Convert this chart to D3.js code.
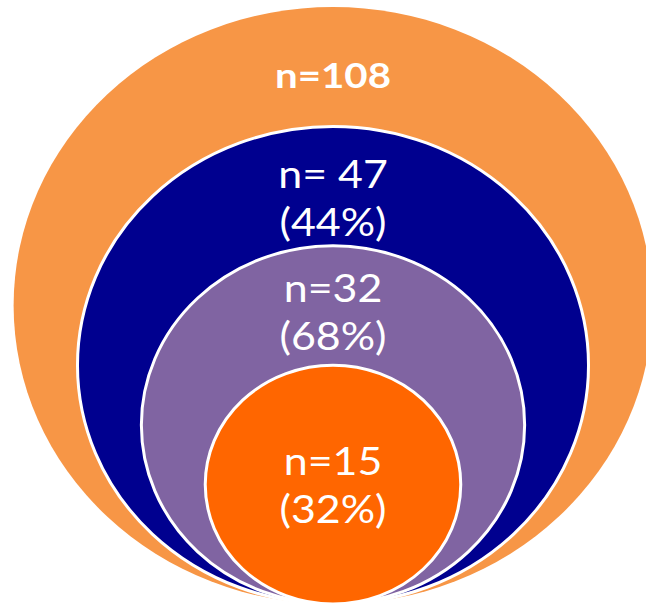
<!DOCTYPE html>
<html>
<head>
<meta charset="utf-8">
<script src="https://cdn.jsdelivr.net/npm/d3@7"></script>
<style>
  html, body { margin: 0; padding: 0; background: #fff; }
  svg { display: block; }
</style>
</head>
<body>
<svg id="chart" width="646" height="606"></svg>
<script>
// ---- data ----
const groups = ["all", "subset1", "subset2", "subset3"];
const counts = [108, 47, 32, 15];
const countLabels = ["n=108", "n= 47", "n=32", "n=15"];
const shareLabels = ["", "(44%)", "(68%)", "(32%)"];
const sizeLevels = [5, 4, 3, 2];   // relative nesting size of each circle

// ---- layout ----
const W = 646, H = 606;
const cx = 333, bottomY = 604;
const stretch = 1.07;            // horizontal stretch of the original picture
const colors = ["#F79646", "#00008F", "#8064A2", "#FF6600"];

const rScale = d3.scaleLinear().domain([0, 5]).range([0, 298.5]);

const svg = d3.select("#chart");

const data = groups.map((g, i) => ({
  group: g,
  n: counts[i],
  line1: countLabels[i],
  line2: shareLabels[i],
  ry: rScale(sizeLevels[i]),
  color: colors[i],
  i
}));

svg.selectAll("ellipse")
  .data(data)
  .join("ellipse")
  .attr("cx", cx)
  .attr("cy", d => bottomY - d.ry)
  .attr("rx", d => d.ry * stretch)
  .attr("ry", d => d.ry)
  .attr("fill", d => d.color)
  .attr("stroke", d => d.i === 0 ? "none" : "#fff")
  .attr("stroke-width", 3);

// label baselines (first line) relative to the top of each ellipse
const firstOffsets = [81, 62, 56, 110];
const lineGap = 48;

const lab = svg.selectAll("g.label")
  .data(data)
  .join("g")
  .attr("class", "label");

lab.append("text")
  .attr("transform", d => `translate(${cx},${bottomY - 2 * d.ry + firstOffsets[d.i]}) scale(${d.i === 0 ? 1.15 : 1.1},1)`)
  .attr("text-anchor", "middle")
  .attr("fill", "#fff")
  .attr("font-family", "Lato, 'Open Sans', sans-serif")
  .attr("font-weight", d => d.i === 0 ? 700 : 400)
  .attr("font-size", d => d.i === 0 ? 35 : 39)
  .text(d => d.line1);

lab.filter(d => d.line2)
  .append("text")
  .attr("transform", d => `translate(${cx},${bottomY - 2 * d.ry + firstOffsets[d.i] + lineGap}) scale(1.1,1)`)
  .attr("text-anchor", "middle")
  .attr("fill", "#fff")
  .attr("font-family", "Lato, 'Open Sans', sans-serif")
  .attr("font-size", 39)
  .text(d => d.line2);
</script>
</body>
</html>
